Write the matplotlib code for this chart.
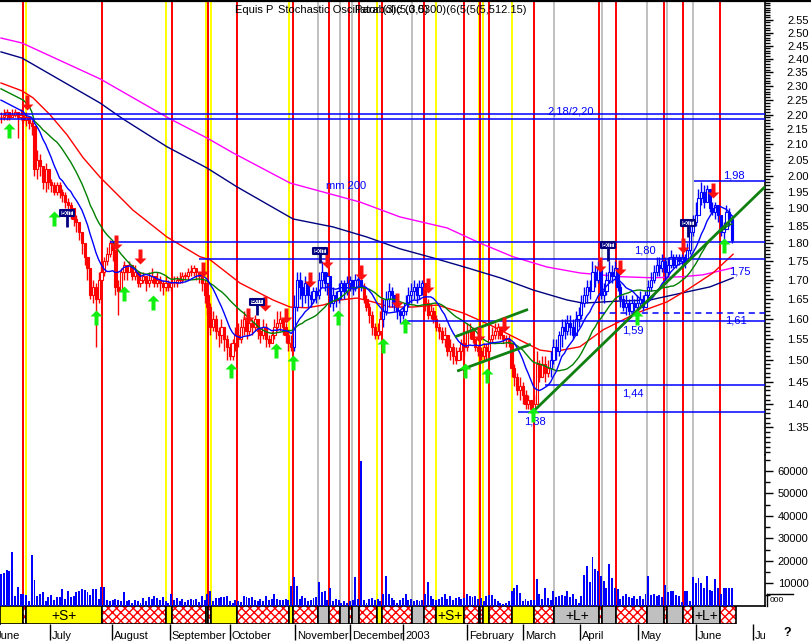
import numpy as np
import pandas as pd
import matplotlib
matplotlib.use("Agg")
import matplotlib.pyplot as plt
from matplotlib.path import Path
from matplotlib.patches import Rectangle
from matplotlib.lines import Line2D
from matplotlib.ticker import FixedLocator, FormatStrFormatter, NullFormatter

plt.rcParams['font.family'] = ['Liberation Sans', 'DejaVu Sans']
plt.rcParams['hatch.linewidth'] = 1.0

# ---------------- data (trading-day index 0..262) ----------------
close = [
    2.19, 2.20, 2.21, 2.19, 2.20, 2.21, 2.19, 2.20, 2.18, 2.19,
    2.17, 2.16, 2.02, 2.05, 2.03, 1.98, 2.02, 1.98, 1.97, 1.95,
    1.97, 1.95, 1.94, 1.92, 1.91, 1.90, 1.87, 1.86, 1.83, 1.80,
    1.76, 1.73, 1.66, 1.68, 1.65, 1.70, 1.72, 1.75, 1.77, 1.80,
    1.78, 1.68, 1.67, 1.72, 1.74, 1.72, 1.74, 1.71, 1.72, 1.69,
    1.70, 1.71, 1.69, 1.70, 1.71, 1.69, 1.70, 1.69, 1.68, 1.69,
    1.68, 1.69, 1.69, 1.70, 1.70, 1.71, 1.71, 1.72, 1.72, 1.73,
    1.72, 1.71, 1.69, 1.66, 1.63, 1.58, 1.60, 1.57, 1.56, 1.58,
    1.55, 1.53, 1.51, 1.54, 1.56, 1.55, 1.58, 1.60, 1.57, 1.59,
    1.58, 1.60, 1.57, 1.56, 1.58, 1.55, 1.54, 1.56, 1.58, 1.59,
    1.60, 1.58, 1.56, 1.54, 1.53, 1.63, 1.70, 1.68, 1.66, 1.69,
    1.66, 1.65, 1.67, 1.66, 1.70, 1.72, 1.69, 1.71, 1.64, 1.66,
    1.65, 1.67, 1.69, 1.67, 1.69, 1.70, 1.68, 1.70, 1.70, 1.68,
    1.65, 1.63, 1.61, 1.58, 1.56, 1.57, 1.60, 1.62, 1.65, 1.67,
    1.66, 1.64, 1.62, 1.61, 1.62, 1.64, 1.66, 1.67, 1.68, 1.66,
    1.68, 1.69, 1.64, 1.61, 1.62, 1.60, 1.58, 1.57, 1.55, 1.56,
    1.52, 1.53, 1.51, 1.50, 1.52, 1.54, 1.53, 1.57, 1.57, 1.55,
    1.53, 1.52, 1.51, 1.53, 1.52, 1.55, 1.56, 1.57, 1.58, 1.56,
    1.55, 1.55, 1.54, 1.48, 1.46, 1.43, 1.44, 1.42, 1.40, 1.41,
    1.39, 1.40, 1.49, 1.46, 1.49, 1.47, 1.48, 1.50, 1.53, 1.52,
    1.56, 1.58, 1.57, 1.59, 1.58, 1.56, 1.60, 1.61, 1.64, 1.66,
    1.68, 1.67, 1.72, 1.70, 1.73, 1.66, 1.67, 1.70, 1.72, 1.71,
    1.73, 1.68, 1.65, 1.63, 1.64, 1.62, 1.64, 1.63, 1.64, 1.65,
    1.63, 1.66, 1.68, 1.70, 1.72, 1.74, 1.73, 1.75, 1.72, 1.74,
    1.76, 1.74, 1.76, 1.75, 1.76, 1.75, 1.78, 1.83, 1.86, 1.88,
    1.93, 1.95, 1.92, 1.96, 1.90, 1.89, 1.91, 1.88, 1.83, 1.84,
    1.89, 1.87, 1.81]
high = [
    2.21, 2.22, 2.22, 2.21, 2.22, 2.22, 2.21, 2.22, 2.21, 2.21,
    2.19, 2.18, 2.14, 2.08, 2.07, 2.03, 2.04, 2.02, 1.99, 1.98,
    1.98, 1.98, 1.96, 1.95, 1.93, 1.92, 1.90, 1.88, 1.86, 1.83,
    1.80, 1.76, 1.72, 1.70, 1.69, 1.72, 1.74, 1.76, 1.79, 1.81,
    1.80, 1.76, 1.70, 1.73, 1.75, 1.74, 1.75, 1.74, 1.74, 1.72,
    1.72, 1.72, 1.71, 1.72, 1.73, 1.71, 1.72, 1.71, 1.70, 1.71,
    1.70, 1.70, 1.71, 1.71, 1.72, 1.72, 1.72, 1.73, 1.74, 1.74,
    1.73, 1.72, 1.70, 1.70, 1.67, 1.64, 1.62, 1.61, 1.58, 1.60,
    1.58, 1.56, 1.54, 1.55, 1.58, 1.59, 1.60, 1.62, 1.60, 1.61,
    1.60, 1.61, 1.60, 1.58, 1.60, 1.59, 1.56, 1.57, 1.60, 1.62,
    1.62, 1.60, 1.59, 1.57, 1.56, 1.66, 1.72, 1.72, 1.70, 1.71,
    1.68, 1.67, 1.68, 1.68, 1.72, 1.75, 1.72, 1.72, 1.70, 1.68,
    1.67, 1.69, 1.70, 1.70, 1.71, 1.71, 1.70, 1.715, 1.71, 1.695,
    1.69, 1.66, 1.64, 1.62, 1.59, 1.59, 1.62, 1.65, 1.67, 1.69,
    1.68, 1.66, 1.625, 1.62, 1.63, 1.66, 1.68, 1.69, 1.70, 1.69,
    1.70, 1.70, 1.66, 1.65, 1.64, 1.63, 1.61, 1.59, 1.58, 1.58,
    1.56, 1.55, 1.54, 1.53, 1.53, 1.55, 1.56, 1.59, 1.59, 1.58,
    1.55, 1.535, 1.53, 1.54, 1.54, 1.56, 1.58, 1.59, 1.59, 1.58,
    1.56, 1.56, 1.56, 1.54, 1.49, 1.47, 1.46, 1.45, 1.43, 1.42,
    1.41, 1.42, 1.52, 1.50, 1.51, 1.51, 1.50, 1.52, 1.55, 1.55,
    1.57, 1.60, 1.60, 1.61, 1.61, 1.60, 1.62, 1.63, 1.66, 1.68,
    1.70, 1.70, 1.75, 1.74, 1.75, 1.72, 1.69, 1.72, 1.75, 1.74,
    1.75, 1.72, 1.69, 1.66, 1.66, 1.65, 1.66, 1.65, 1.66, 1.67,
    1.66, 1.67, 1.70, 1.72, 1.74, 1.76, 1.76, 1.77, 1.76, 1.76,
    1.78, 1.77, 1.77, 1.77, 1.77, 1.77, 1.80, 1.85, 1.88, 1.92,
    1.96, 1.98, 1.97, 1.97, 1.95, 1.92, 1.92, 1.91, 1.88, 1.86,
    1.91, 1.90, 1.88]
low = [
    2.17, 2.18, 2.18, 2.18, 2.19, 2.19, 2.12, 2.18, 2.17, 2.16,
    2.15, 2.13, 2.00, 1.99, 2.00, 1.96, 1.95, 1.96, 1.95, 1.94,
    1.94, 1.93, 1.92, 1.90, 1.89, 1.87, 1.85, 1.83, 1.81, 1.77,
    1.74, 1.70, 1.65, 1.64, 1.53, 1.64, 1.68, 1.71, 1.74, 1.76,
    1.75, 1.66, 1.61, 1.67, 1.70, 1.70, 1.72, 1.70, 1.70, 1.68,
    1.68, 1.69, 1.67, 1.68, 1.69, 1.68, 1.68, 1.67, 1.66, 1.67,
    1.67, 1.67, 1.68, 1.68, 1.69, 1.69, 1.70, 1.70, 1.71, 1.71,
    1.70, 1.69, 1.67, 1.64, 1.61, 1.56, 1.57, 1.55, 1.53, 1.54,
    1.52, 1.50, 1.50, 1.50, 1.52, 1.53, 1.54, 1.56, 1.55, 1.56,
    1.56, 1.57, 1.55, 1.54, 1.55, 1.53, 1.53, 1.54, 1.55, 1.57,
    1.57, 1.56, 1.54, 1.52, 1.52, 1.52, 1.62, 1.65, 1.63, 1.64,
    1.63, 1.63, 1.64, 1.64, 1.65, 1.68, 1.67, 1.66, 1.63, 1.62,
    1.63, 1.64, 1.65, 1.65, 1.66, 1.67, 1.66, 1.67, 1.68, 1.67,
    1.64, 1.62, 1.59, 1.56, 1.55, 1.55, 1.56, 1.58, 1.61, 1.63,
    1.63, 1.62, 1.60, 1.59, 1.60, 1.61, 1.63, 1.64, 1.65, 1.64,
    1.65, 1.66, 1.62, 1.60, 1.60, 1.59, 1.57, 1.55, 1.54, 1.53,
    1.51, 1.50, 1.49, 1.49, 1.50, 1.50, 1.51, 1.52, 1.55, 1.54,
    1.52, 1.51, 1.50, 1.50, 1.50, 1.51, 1.54, 1.55, 1.55, 1.55,
    1.54, 1.53, 1.53, 1.46, 1.44, 1.42, 1.41, 1.40, 1.39, 1.39,
    1.38, 1.385, 1.40, 1.45, 1.46, 1.45, 1.46, 1.46, 1.49, 1.50,
    1.51, 1.53, 1.55, 1.56, 1.56, 1.55, 1.57, 1.58, 1.60, 1.63,
    1.64, 1.65, 1.67, 1.68, 1.69, 1.65, 1.64, 1.66, 1.69, 1.69,
    1.70, 1.67, 1.63, 1.62, 1.61, 1.61, 1.62, 1.62, 1.62, 1.63,
    1.62, 1.63, 1.65, 1.67, 1.69, 1.71, 1.71, 1.72, 1.70, 1.71,
    1.73, 1.73, 1.73, 1.74, 1.74, 1.73, 1.75, 1.77, 1.82, 1.85,
    1.88, 1.91, 1.90, 1.92, 1.89, 1.88, 1.87, 1.86, 1.82, 1.81,
    1.84, 1.85, 1.80]
volume = [
    14000, 14500, 16000, 15500, 24000, 4500, 8400, 5300, 5500, 5000,
    2200, 22600, 11500, 4500, 5500, 6000, 2000, 4200, 5000, 2500,
    4000, 4000, 7500, 3000, 6800, 4000, 4500, 6000, 6500, 7500,
    7000, 6000, 5000, 7500, 7500, 3000, 8400, 8400, 2500, 2000,
    2500, 3000, 2500, 2000, 6200, 2000, 2500, 1500, 2500, 2000,
    1200, 3500, 2000, 4000, 3000, 4500, 3500, 2500, 4000, 2000,
    1200, 5300, 2500, 3500, 2000, 3000, 1800, 2500, 3000, 2500,
    3000, 1800, 4400, 2500, 5300, 6500, 2000, 3500, 3500, 4000,
    4000, 4500, 2000, 1500, 2500, 2000, 1800, 4600, 4000, 3500,
    4000, 2500, 2000, 3000, 2000, 4500, 2500, 3000, 5300, 3000,
    2500, 2500, 3000, 2500, 9000, 13000, 9000, 3000, 4500, 3500,
    2000, 2500, 3500, 4000, 10700, 6000, 6500, 2500, 8000, 2000,
    3000, 2500, 1500, 2000, 1500, 2000, 2500, 13000, 3000, 64500,
    2500, 1500, 3000, 3500, 2500, 3000, 2000, 5300, 13300, 5500,
    3500, 2500, 1500, 2500, 3500, 5300, 2500, 3000, 2000, 2500,
    2000, 2500, 5500, 10800, 4600, 3000, 2500, 3000, 4000, 5500,
    3000, 4500, 2500, 3500, 4000, 3000, 3500, 5500, 4500, 4000,
    4500, 3000, 3500, 2000, 4500, 5000, 5000, 3000, 2000, 1500,
    1000, 1500, 2000, 6700, 8000, 9500, 5700, 2000, 3000, 2000,
    2500, 2500, 11800, 5500, 3000, 8000, 3500, 2500, 6700, 4000,
    4500, 5000, 4500, 6700, 4000, 5500, 3000, 1500, 4500, 13800,
    17800, 10800, 21800, 16500, 15500, 13300, 11300, 7800, 18700, 12400,
    8000, 7500, 3000, 4500, 5500, 4000, 3500, 4500, 3000, 4500,
    3000, 5500, 13300, 5000, 5300, 4500, 5000, 4000, 9300, 6000,
    6700, 6700, 5000, 4500, 1700, 6700, 6700, 2200, 13000, 10200,
    12300, 10200, 8000, 13500, 7000, 6700, 12000, 8000, 5300, 8000,
    8000, 8000, 8000]

# trend regime (S = short / red bars, L = long / blue bars)
trend_start_days = [0, 105, 130, 137, 152, 197]
trend_sides = ['S', 'L', 'S', 'L', 'S', 'L']

# short moving averages at the left edge (window not yet full)
fast_ma_head = [2.25, 2.245, 2.24, 2.235, 2.23, 2.225, 2.22, 2.215, 2.21]
mid_ma_head = [2.29, 2.285, 2.28, 2.275, 2.27, 2.265, 2.26, 2.255, 2.25, 2.24,
               2.23, 2.21]

# long moving averages
mm200_days = [0, 7.5, 35.5, 60.6, 73.8, 83.2, 103.6, 128.7, 143.0, 159.9,
              171.7, 183.5, 195.7, 207.5, 221.9, 233.7, 244.4, 251.6, 262.4]
mm200_vals = [2.479, 2.460, 2.326, 2.185, 2.121, 2.072, 1.977, 1.919, 1.875, 1.843,
              1.800, 1.762, 1.734, 1.718, 1.708, 1.705, 1.708, 1.713, 1.732]
mm100_days = [0, 7.5, 35.5, 43.7, 59.5, 73.8, 84.6, 104.7, 119.0, 131.2, 143.0,
              154.8, 167.0, 178.9, 190.7, 202.9, 208.6, 220.8, 232.6, 245.9, 254.1, 262.4]
mm100_vals = [2.426, 2.403, 2.240, 2.185, 2.092, 2.024, 1.965, 1.869, 1.846, 1.817, 1.784,
              1.759, 1.732, 1.705, 1.673, 1.647, 1.639, 1.644, 1.647, 1.668, 1.681, 1.705]
mm50_days = [0, 7.5, 11.5, 17.6, 23.7, 29.4, 35.5, 47.3, 59.5, 71.3, 74.9, 85.7,
             97.5, 103.6, 109.7, 115.4, 121.5, 127.6, 133.3, 139.4, 147.7, 156.3,
             165.6, 175.3, 186.0, 193.2, 197.8, 207.5, 215.8, 227.9, 238.7, 245.9,
             255.2, 262.4]
mm50_vals = [2.311, 2.283, 2.258, 2.199, 2.131, 2.057, 1.995, 1.895, 1.817, 1.762,
             1.754, 1.691, 1.647, 1.629, 1.627, 1.634, 1.647, 1.652, 1.642, 1.629,
             1.629, 1.634, 1.614, 1.584, 1.547, 1.523, 1.519, 1.531, 1.572, 1.614,
             1.642, 1.673, 1.718, 1.769]

# buy / sell / exit signals
buy_days = [2.9, 19.0, 34.1, 44.1, 54.5, 82.4, 98.6, 104.7, 120.8, 136.9,
            144.8, 166.3, 174.2, 190.7, 228.0, 259.1]
buy_prices = [2.171, 1.892, 1.621, 1.684, 1.660, 1.493, 1.540, 1.511, 1.621, 1.552,
              1.601, 1.493, 1.481, 1.394, 1.621, 1.814]
sell_days = [9.3, 41.2, 49.8, 72.4, 88.5, 94.6, 102.2, 110.8, 116.8, 129.0,
             141.9, 153.0, 171.3, 180.3, 214.7, 221.9, 244.4, 255.2]
sell_prices = [2.216, 1.781, 1.742, 1.708, 1.589, 1.619, 1.589, 1.681, 1.731, 1.699,
               1.627, 1.665, 1.543, 1.566, 1.720, 1.713, 1.772, 1.931]
exit_days = [23.7, 91.8, 114.3, 217.6, 246.2]
exit_top = [1.895, 1.650, 1.786, 1.803, 1.865]
exit_stem = [1.845, 1.608, 1.746, 1.749, 1.818]

# horizontal support / resistance lines
level_prices = [2.203, 2.185, 1.803, 1.755, 1.613, 1.593, 1.442, 1.383, 1.982]
level_start = [-0.4, -0.4, 39.1, 71.0, 214.3, 144.1, 195.0, 185.3, 248.4]
level_dashed = [False, False, False, False, True, False, False, False, False]
level_labels = ["2,18/2,20", "1,80", "1,75", "1,61", "1,59", "1,44", "1,38", "1,98", "mm 200"]
level_label_days = [204.3, 230.8, 264.9, 263.4, 226.5, 226.5, 191.4, 262.7, 123.7]
level_label_prices = [2.212, 1.778, 1.723, 1.595, 1.570, 1.423, 1.3615, 2.000, 1.968]

# trend lines (day, price) pairs
trend_x = [[190.2, 273.8], [162.7, 188.9], [163.5, 189.9]]
trend_y = [[1.3805, 1.965], [1.555, 1.623], [1.474, 1.537]]

# system signals: R = stop (red), Y = entry (yellow), G = neutral (grey)
signal_days = [7.78, 8.85, 36.09, 59.03, 61.18, 73.37, 74.30, 75.16, 84.48, 103.33,
               104.55, 113.73, 117.67, 121.61, 124.62, 125.70, 128.42, 134.87, 136.67,
               147.20, 151.72, 155.81, 166.06, 171.22, 171.68, 172.87, 175.02, 183.26,
               191.15, 198.32, 214.44, 215.52, 220.32, 231.65, 237.53, 238.60, 244.55,
               247.92, 257.60]
signal_kinds = ['R', 'Y', 'R', 'Y', 'R', 'Y', 'R', 'Y', 'R', 'Y',
                'R', 'G', 'R', 'G', 'R', 'G', 'R', 'Y', 'R',
                'G', 'R', 'Y', 'R', 'Y', 'R', 'Y', 'R', 'Y',
                'R', 'G', 'R', 'G', 'R', 'G', 'R', 'G', 'R',
                'G', 'R']
ribbon_labels = ['+S+', '+S+', '+L+', '+L+']
ribbon_label_days = [22.5, 160.9, 206.4, 252.8]

month_days = [17.56, 39.78, 60.57, 82.08, 105.38, 125.09, 144.09, 167.03,
              187.1, 207.53, 228.32, 249.1, 269.53]
month_names = ["July", "August", "September", "October", "November", "December",
               "2003", "February", "March", "April", "May", "June", "July"]

price_major = [round(1.35 + 0.05 * i, 2) for i in range(25)]
price_minor = [round(1.29 + 0.01 * i, 2) for i in range(134)]
vol_major = [10000, 20000, 30000, 40000, 50000, 60000]
vol_minor = [5000, 15000, 25000, 35000, 45000, 55000, 65000]

# ---------------- layout ----------------
W, H, DPI = 812, 642, 100
fig = plt.figure(figsize=(W / DPI, H / DPI), dpi=DPI)
fig.patch.set_facecolor('white')


def rect(x0, y0, x1, y1):
    return [x0 / W, 1 - y1 / H, (x1 - x0) / W, (y1 - y0) / H]


XL = (-1 / 2.79, 764 / 2.79)
SIG_COL = {'R': '#ff0000', 'Y': '#ffff00', 'G': '#c0c0c0'}

ax = fig.add_axes(rect(0, 0, 765, 455))
axv = fig.add_axes(rect(0, 455, 765, 606))
axr = fig.add_axes(rect(0, 606, 765, 624))
axm = fig.add_axes(rect(0, 624, 765, 642))
for a in (ax, axv, axr, axm):
    a.set_xlim(*XL)
    a.set_facecolor('none')
    for s in a.spines.values():
        s.set_visible(False)
    a.set_xticks([])

# price axis
ax.set_yscale('log')
ax.set_ylim(1.2930, 2.6307)
ax.spines['right'].set_visible(True)
ax.spines['right'].set_linewidth(1.2)
ax.yaxis.tick_right()
ax.yaxis.set_major_locator(FixedLocator(price_major))
ax.yaxis.set_minor_locator(FixedLocator(price_minor))
ax.yaxis.set_major_formatter(FormatStrFormatter('%.2f'))
ax.yaxis.set_minor_formatter(NullFormatter())
ax.tick_params(axis='y', which='major', length=5.8, width=1, pad=25.5, labelsize=8)
ax.tick_params(axis='y', which='minor', length=3.6, width=1)
for lab in ax.yaxis.get_majorticklabels():
    lab.set_horizontalalignment('right')

# volume axis
axv.set_ylim(0, 67100)
axv.spines['right'].set_visible(True)
axv.spines['right'].set_linewidth(1.2)
axv.spines['bottom'].set_visible(True)
axv.spines['bottom'].set_linewidth(1.2)
axv.yaxis.tick_right()
axv.yaxis.set_major_locator(FixedLocator(vol_major))
axv.yaxis.set_minor_locator(FixedLocator(vol_minor))
axv.yaxis.set_major_formatter(FormatStrFormatter('%d'))
axv.tick_params(axis='y', which='major', length=5.8, width=1, pad=25.5, labelsize=8)
axv.tick_params(axis='y', which='minor', length=3.6, width=1)
for lab in axv.yaxis.get_majorticklabels():
    lab.set_horizontalalignment('right')

# vertical signal lines
for d, k in zip(signal_days, signal_kinds):
    for a in (ax, axv):
        a.axvline(d, color=SIG_COL[k], lw=1.4, zorder=0)

# moving averages
close_s = pd.Series(close)
ma_fast = close_s.rolling(10, min_periods=1).mean().to_numpy()
ma_mid = close_s.rolling(21, min_periods=1).mean().to_numpy()
ma_fast[:len(fast_ma_head)] = fast_ma_head
ma_mid[:len(mid_ma_head)] = mid_ma_head
n = len(close)
days = np.arange(n)
ax.plot(mm200_days, mm200_vals, color='#ff00ff', lw=1, zorder=2)
ax.plot(mm100_days, mm100_vals, color='#000080', lw=1, zorder=2)
ax.plot(mm50_days, mm50_vals, color='#ff0000', lw=1, zorder=2)

# candles
close_a = np.array(close)
opens = np.r_[close_a[0], close_a[:-1]]
side = np.empty(n, dtype=object)
for s0, sd in zip(trend_start_days, trend_sides):
    side[s0:] = sd
cols = ['#0000ff' if sd == 'L' else '#ff0000' for sd in side]
hi = np.maximum.reduce([np.array(high), opens, close_a])
lo = np.minimum.reduce([np.array(low), opens, close_a])
ax.vlines(days, lo, hi, colors=cols, lw=1, zorder=3)
body_lo = np.minimum(opens, close_a)
body_h = np.maximum(np.abs(close_a - opens), 0.002)
fcs = ['white' if c > o else col for c, o, col in zip(close_a, opens, cols)]
ax.bar(days, body_h, bottom=body_lo, width=0.8, color=fcs, edgecolor=cols,
       linewidth=0.8, zorder=4)

ax.plot(days, ma_mid, color='#008000', lw=1, zorder=5)
ax.plot(days, ma_fast, color='#0000ff', lw=1, zorder=5)

# horizontal levels
for p, s0, dsh in zip(level_prices, level_start, level_dashed):
    ax.hlines(p, s0, XL[1], colors='#0000ff', lw=1.1,
              linestyles=(0, (4, 3)) if dsh else 'solid', zorder=5)
for t, d, p in zip(level_labels, level_label_days, level_label_prices):
    ax.text(d, p, t, color='#0000ff', fontsize=8, ha='center', va='center',
            zorder=7, clip_on=False)

# trend lines
for tx, ty in zip(trend_x, trend_y):
    ax.plot(tx, ty, color='#108010', lw=2, zorder=6, solid_capstyle='butt')

# arrows
up_path = Path([(0, 0), (6, -6), (2, -6), (2, -15), (-2, -15), (-2, -6), (-6, -6), (0, 0)],
               closed=True)
dn_path = Path([(0, 0), (6, 6), (2, 6), (2, 15), (-2, 15), (-2, 6), (-6, 6), (0, 0)],
               closed=True)
ax.plot(buy_days, buy_prices, ls='none', marker=up_path, ms=21.6,
        mfc='#11ee11', mec='none', zorder=8)
ax.plot(sell_days, sell_prices, ls='none', marker=dn_path, ms=21.6,
        mfc='#ff1010', mec='none', zorder=8)

# exit flags
box_path = Path([(-7, 0), (7, 0), (7, -6), (-7, -6), (-7, 0)], closed=True)
ax.vlines(exit_days, exit_stem, exit_top, colors='#000080', lw=2, zorder=8)
ax.plot(exit_days, exit_top, ls='none', marker=box_path, ms=10.1,
        mfc='white', mec='#000080', mew=1.5, zorder=9)
for d, p in zip(exit_days, exit_top):
    ax.annotate('EXIT', (d, p), xytext=(0, -2.2), textcoords='offset points',
                ha='center', va='center', fontsize=3.6, color='#000080',
                fontweight='bold', zorder=10, family='DejaVu Sans')

# volume bars
axv.bar(days, volume, width=0.7, color='#0000ff', zorder=3)

# signal ribbon
axr.set_ylim(0, 1)
bounds = [XL[0]] + list(signal_days) + [n + 0.44]
kinds = ['Y'] + list(signal_kinds)
for i, k in enumerate(kinds):
    x0, x1 = bounds[i], bounds[i + 1]
    if k == 'R':
        axr.add_patch(Rectangle((x0, 0), x1 - x0, 1, facecolor='white',
                                edgecolor='#ff0000', hatch='xxxx', lw=0))
    else:
        axr.add_patch(Rectangle((x0, 0), x1 - x0, 1,
                                facecolor='#ffff00' if k == 'Y' else '#c0c0c0', lw=0))
    axr.add_patch(Rectangle((x0, 0), x1 - x0, 1, fill=False,
                            edgecolor='black', lw=1.2))
for t, d in zip(ribbon_labels, ribbon_label_days):
    axr.text(d, 0.45, t, ha='center', va='center', fontsize=10, color='black')

# month axis
axm.set_ylim(0, 1)
axm.vlines(month_days, 0.1, 1, colors='black', lw=1)
axm.text(XL[0] - 1.5, 0.36, "June", fontsize=8, ha='left', va='center', clip_on=True)
for d, t in zip(month_days, month_names):
    axm.text(d + 0.7, 0.36, t, fontsize=8, ha='left', va='center', clip_on=True)

# title / decorations (the original header is a pile of overprinted indicator names)
fig.add_artist(Line2D([0, 1], [1 - 0.8 / H] * 2, color='black', lw=1.6,
                      transform=fig.transFigure))
ty = 1 - 10 / H
fig.text(235 / W, ty, "Equis P", fontsize=8, va='center')
fig.text(278 / W, ty, "Stochastic Oscillator (3)(5,3,5)", fontsize=8, va='center')
fig.text(527 / W, ty, "Parabolic (0.0300)(6(5(5(5,512.15)", fontsize=8, va='center',
         ha='right')
fig.text(787 / W, 1 - 633 / H, "?", fontsize=9, fontweight='bold', ha='center', va='center')
fig.add_artist(Line2D([767 / W, 793 / W], [1 - 594 / H] * 2, color='black', lw=1,
                      transform=fig.transFigure))
fig.add_artist(Line2D([767 / W, 767 / W], [1 - 594 / H, 1 - 606 / H], color='black', lw=1,
                      transform=fig.transFigure))
fig.text(770 / W, 1 - 600 / H, "000", fontsize=6, va='center', ha='left')

fig.savefig('out.png', dpi=DPI)
